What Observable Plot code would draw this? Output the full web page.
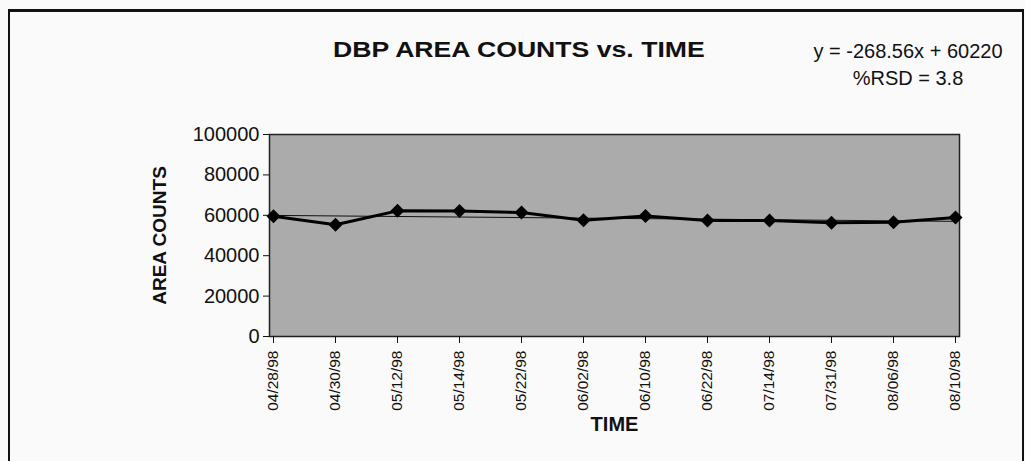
<!DOCTYPE html>
<html>
<head>
<meta charset="utf-8">
<script src="https://cdn.jsdelivr.net/npm/d3@7"></script>
<script src="https://cdn.jsdelivr.net/npm/@observablehq/plot@0.6"></script>
<style>
  html, body { margin: 0; padding: 0; background: #fafafa; }
  body { width: 1025px; height: 461px; position: relative; overflow: hidden;
         font-family: Arial, "Liberation Sans", Helvetica, sans-serif; color: #111; }
  #chart { position: absolute; left: 0; top: 0; }
  .box { position: absolute; left: 8px; top: 9px; width: 1012px; height: 470px;
         border-left: 2px solid #111; border-right: 2px solid #111; border-top: 3px solid #111; }
  .title { position: absolute; left: 333px; top: 37px; font-weight: bold; font-size: 22px;
           transform-origin: 0 0; transform: scaleX(1.21); white-space: nowrap; }
  .eq { position: absolute; left: 808px; width: 200px; text-align: center; font-size: 20px; white-space: nowrap; }
</style>
</head>
<body>
<div class="box"></div>
<div id="chart"></div>
<div class="title" id="title"></div>
<div class="eq" id="eq1" style="top:40px"></div>
<div class="eq" id="eq2" style="top:67px"></div>
<script>
const titleText = "DBP AREA COUNTS vs. TIME";
const xLabel = "TIME";
const yLabel = "AREA COUNTS";
const dates = ["04/28/98","04/30/98","05/12/98","05/14/98","05/22/98","06/02/98","06/10/98","06/22/98","07/14/98","07/31/98","08/06/98","08/10/98"];
const counts = [59500, 55300, 62200, 62100, 61400, 57500, 59600, 57400, 57400, 56300, 56600, 58900];
const trendSlope = -268.56;
const trendIntercept = 60220;
const rsd = 3.8;
const yTicks = [0, 20000, 40000, 60000, 80000, 100000];

const data = dates.map((d, i) => ({date: d, count: counts[i]}));
const trend = [0, dates.length - 1].map(i => ({date: dates[i], count: trendSlope * (i + 1) + trendIntercept}));

document.getElementById("title").textContent = titleText;
document.getElementById("eq1").textContent = `y = ${trendSlope}x + ${trendIntercept}`;
document.getElementById("eq2").textContent = `%RSD = ${rsd}`;

const font = 'Arial, "Liberation Sans", Helvetica, sans-serif';
const chart = Plot.plot({
  width: 1025,
  height: 461,
  marginLeft: 269,
  marginRight: 66,
  marginTop: 134,
  marginBottom: 125,
  style: {background: "transparent", fontFamily: font, color: "#111"},
  x: {type: "point", domain: dates, padding: 0},
  y: {domain: [0, 100000]},
  marks: [
    Plot.frame({fill: "#ababab", stroke: "#222", strokeWidth: 1.5}),
    Plot.axisY({ticks: yTicks, tickFormat: d3.format("d"), fontSize: 20, tickSize: 6, tickPadding: 4, label: null, stroke: "#111"}),
    Plot.axisX({tickRotate: -90, fontSize: 15.5, tickSize: 7, tickPadding: 7, label: null, stroke: "#111"}),
    Plot.line(trend, {x: "date", y: "count", stroke: "#111", strokeWidth: 1}),
    Plot.line(data, {x: "date", y: "count", stroke: "#000", strokeWidth: 3}),
    Plot.dot(data, {x: "date", y: "count", symbol: "diamond2", r: 6.3, fill: "#000", stroke: "none"}),
    Plot.text([yLabel], {frameAnchor: "left", dx: -110, rotate: -90, textAnchor: "middle", fontSize: 19, fontWeight: "bold", fill: "#111"}),
    Plot.text([xLabel], {frameAnchor: "bottom", dy: 94, fontSize: 20, fontWeight: "bold", fill: "#111"})
  ]
});
document.getElementById("chart").appendChild(chart);
</script>
</body>
</html>
